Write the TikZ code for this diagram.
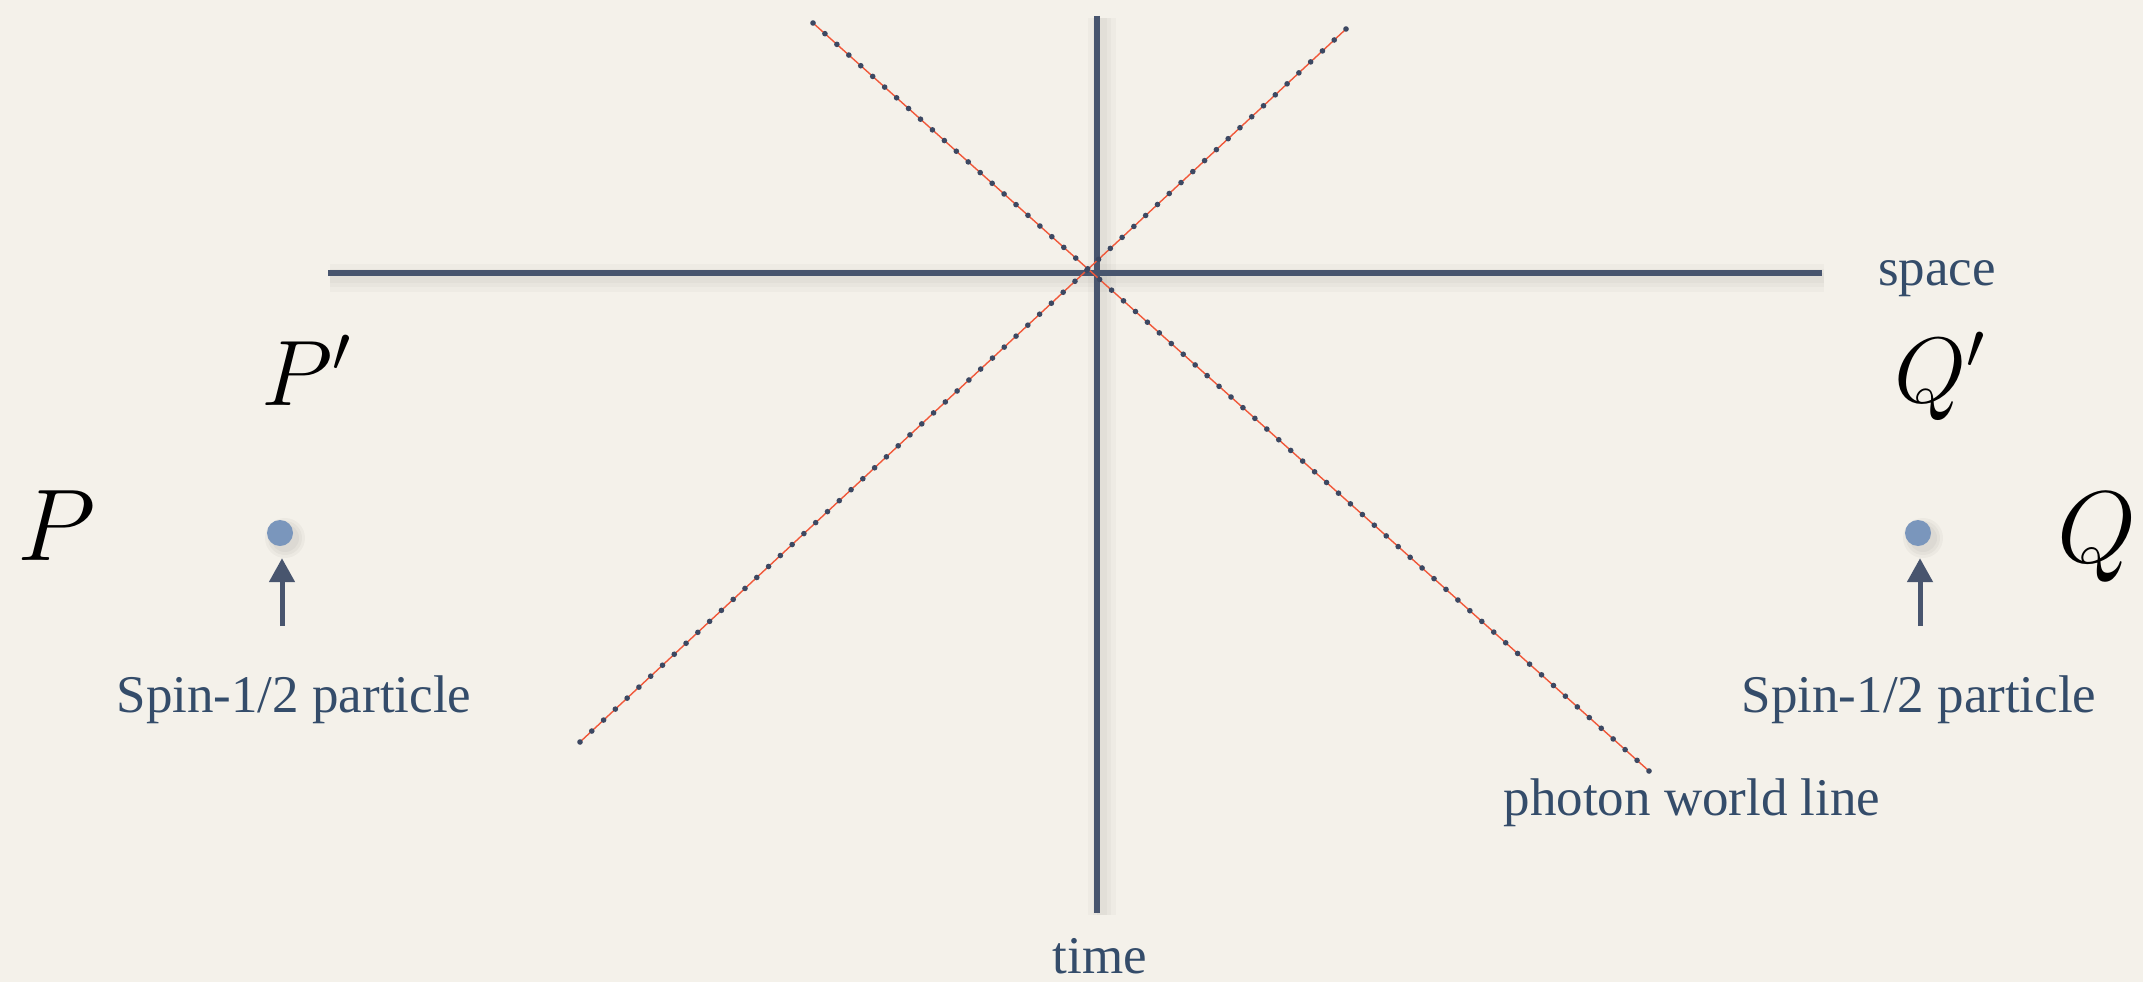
\RequirePackage{fix-cm}
\documentclass[tikz,border=0pt]{standalone}
\usepackage{fontspec}
\newfontfamily\labelfont{Liberation Serif}
\usetikzlibrary{arrows.meta,calc}
\definecolor{bg}{RGB}{244,241,234}
\definecolor{axisc}{RGB}{72,85,110}
\definecolor{txtc}{RGB}{52,76,106}
\definecolor{dotc}{RGB}{60,72,98}
\definecolor{photonc}{RGB}{240,88,58}
\definecolor{partc}{RGB}{122,150,188}
\begin{document}
\begin{tikzpicture}[x=1pt,y=-1pt,
  axis/.style={draw=axisc,line width=5.5pt},
  axshadow/.style={draw=black,opacity=0.025,line width=#1},
  photon/.style={draw=photonc,line width=1.4pt},
  lbl/.style={text=txtc,inner sep=0pt,anchor=base,font=\labelfont\fontsize{53}{60}\selectfont},
  bigm/.style={text=black,inner sep=0pt,anchor=base,font=\fontsize{102}{110}\selectfont},
  midm/.style={text=black,inner sep=0pt,anchor=base,font=\fontsize{93}{100}\selectfont},
  particle/.style={circle,fill=partc,minimum size=26pt,inner sep=0pt},
  spinarrow/.style={draw=axisc,line width=5pt,-{Triangle[length=24pt,width=25pt]},shorten >=12pt}
]
\fill[bg] (0,0) rectangle (2143,982);
\useasboundingbox (0,0) rectangle (2143,982);

% axes
\coordinate (hl) at (328,273);
\coordinate (hr) at (1822,273);
\coordinate (vt) at (1097,16);
\coordinate (vb) at (1097,913);
\foreach \w in {10pt,18pt,28pt} {
  \draw[axshadow=\w] ($(hl)+(2,5)$) -- ($(hr)+(2,5)$);
  \draw[axshadow=\w] ($(vt)+(5,2)$) -- ($(vb)+(5,2)$);
}
\draw[axis] (hl) -- (hr);
\draw[axis] (vt) -- (vb);

% photon world lines
\coordinate (d1a) at (813,23);
\coordinate (d1b) at (1649,771);
\coordinate (d2a) at (1346,29);
\coordinate (d2b) at (580,742);
\draw[photon] (d1a) -- (d1b);
\draw[photon] (d2a) -- (d2b);
\foreach \t in {0,...,70} \fill[dotc] ($(d1a)!\t/70!(d1b)$) circle (2.8pt);
\foreach \t in {0,...,65} \fill[dotc] ($(d2a)!\t/65!(d2b)$) circle (2.8pt);

% labels
\node[lbl] (space) at (1937,285) {space};
\node[lbl] (time) at (1100,973) {time};
\node[lbl] (pwl) at (1692,815) {photon world line};

% points
\node[bigm] (P) at (57,560) {$P$};
\node[midm] (Pp) at (306,405) {$P'$};
\node[bigm] (Q) at (2097,562) {$Q$};
\node[midm] (Qp) at (1940,402) {$Q'$};

% particles
\foreach \r in {14pt,17pt,20pt} {
  \fill[black,opacity=0.03] (285,538) circle (\r);
  \fill[black,opacity=0.03] (1923,538) circle (\r);
}
\node[particle] (pdot) at (280,533) {};
\node[particle] (qdot) at (1918,533) {};
\coordinate (pa) at (282,626);
\coordinate (qa) at (1920,626);
\draw[spinarrow] (pa) -- (pa |- pdot.south);
\draw[spinarrow] (qa) -- (qa |- qdot.south);
\node[lbl] (pspin) at (294,712) {Spin-1/2 particle};
\node[lbl] (qspin) at (1919,712) {Spin-1/2 particle};
\end{tikzpicture}
\end{document}
